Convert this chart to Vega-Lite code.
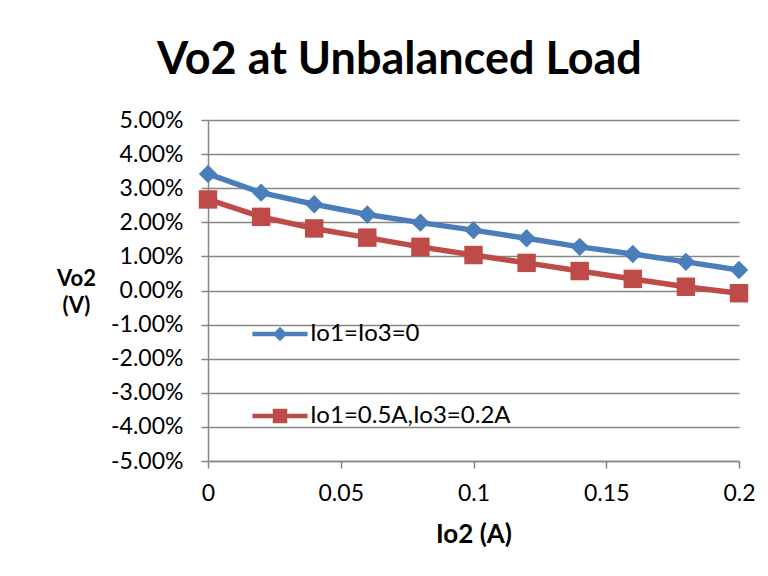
{
  "$schema": "https://vega.github.io/schema/vega-lite/v6.json",
  "width": 531,
  "height": 341,
  "autosize": {"type": "none"},
  "padding": {"left": 208, "top": 120, "right": 29, "bottom": 115},
  "background": "white",
  "config": {
    "font": "Lato",
    "view": {"stroke": null},
    "locale": {"number": {"decimal": ".", "thousands": ",", "grouping": [3], "currency": ["$", ""], "minus": "-"}},
    "axis": {"labelFont": "Lato", "titleFont": "Lato", "labelColor": "#000000", "titleColor": "#000000", "labelFlush": false}
  },
  "title": {
    "text": "Vo2 at Unbalanced Load",
    "font": "Lato",
    "fontSize": 45,
    "fontWeight": "bold",
    "color": "#000000",
    "anchor": "middle",
    "dx": -74,
    "offset": 26
  },
  "data": {
    "values": [
      {"io2": 0.00, "vo2": 0.0342, "series": "Io1=Io3=0"},
      {"io2": 0.02, "vo2": 0.0287, "series": "Io1=Io3=0"},
      {"io2": 0.04, "vo2": 0.0253, "series": "Io1=Io3=0"},
      {"io2": 0.06, "vo2": 0.0223, "series": "Io1=Io3=0"},
      {"io2": 0.08, "vo2": 0.0199, "series": "Io1=Io3=0"},
      {"io2": 0.10, "vo2": 0.0177, "series": "Io1=Io3=0"},
      {"io2": 0.12, "vo2": 0.0153, "series": "Io1=Io3=0"},
      {"io2": 0.14, "vo2": 0.0128, "series": "Io1=Io3=0"},
      {"io2": 0.16, "vo2": 0.0107, "series": "Io1=Io3=0"},
      {"io2": 0.18, "vo2": 0.0084, "series": "Io1=Io3=0"},
      {"io2": 0.20, "vo2": 0.0060, "series": "Io1=Io3=0"},
      {"io2": 0.00, "vo2": 0.0267, "series": "Io1=0.5A,Io3=0.2A"},
      {"io2": 0.02, "vo2": 0.0216, "series": "Io1=0.5A,Io3=0.2A"},
      {"io2": 0.04, "vo2": 0.0182, "series": "Io1=0.5A,Io3=0.2A"},
      {"io2": 0.06, "vo2": 0.0155, "series": "Io1=0.5A,Io3=0.2A"},
      {"io2": 0.08, "vo2": 0.0128, "series": "Io1=0.5A,Io3=0.2A"},
      {"io2": 0.10, "vo2": 0.0104, "series": "Io1=0.5A,Io3=0.2A"},
      {"io2": 0.12, "vo2": 0.0081, "series": "Io1=0.5A,Io3=0.2A"},
      {"io2": 0.14, "vo2": 0.0057, "series": "Io1=0.5A,Io3=0.2A"},
      {"io2": 0.16, "vo2": 0.0034, "series": "Io1=0.5A,Io3=0.2A"},
      {"io2": 0.18, "vo2": 0.0011, "series": "Io1=0.5A,Io3=0.2A"},
      {"io2": 0.20, "vo2": -0.0008, "series": "Io1=0.5A,Io3=0.2A"}
    ]
  },
  "encoding": {
    "x": {
      "field": "io2",
      "type": "quantitative",
      "scale": {"domain": [0, 0.2], "nice": false, "zero": false},
      "axis": {
        "title": "Io2 (A)",
        "values": [0, 0.05, 0.1, 0.15, 0.2],
        "format": "~g",
        "grid": false,
        "domainColor": "#868686",
        "domainWidth": 1.5,
        "tickColor": "#868686",
        "tickWidth": 1.5,
        "tickSize": 7,
        "labelFontSize": 23,
        "labelPadding": 14,
        "titleFontSize": 26,
        "titleFontWeight": "bold",
        "titlePadding": 16
      }
    },
    "y": {
      "field": "vo2",
      "type": "quantitative",
      "scale": {"domain": [-0.05, 0.05], "nice": false, "zero": false},
      "axis": {
        "title": ["Vo2", "(V)"],
        "values": [-0.05, -0.04, -0.03, -0.02, -0.01, 0, 0.01, 0.02, 0.03, 0.04, 0.05],
        "format": ".2%",
        "grid": true,
        "gridColor": "#868686",
        "gridWidth": 1.5,
        "domainColor": "#868686",
        "domainWidth": 1.5,
        "tickColor": "#868686",
        "tickWidth": 1.5,
        "tickSize": 7,
        "labelFontSize": 23,
        "labelPadding": 18,
        "titleAngle": 0,
        "titleFontSize": 22,
        "titleFontWeight": "bold",
        "titleAlign": "center",
        "titleBaseline": "middle",
        "titleLineHeight": 27,
        "titleX": -132,
        "titleY": 158
      }
    }
  },
  "resolve": {"legend": {"color": "independent", "shape": "independent"}},
  "layer": [
    {
      "mark": {"type": "line", "strokeWidth": 5.5},
      "encoding": {
        "color": {
          "field": "series",
          "type": "nominal",
          "scale": {"domain": ["Io1=Io3=0", "Io1=0.5A,Io3=0.2A"], "range": ["#4A7EBB", "#BE4B48"]},
          "legend": null
        }
      }
    },
    {
      "mark": {"type": "point", "filled": true, "opacity": 1, "size": 340},
      "encoding": {
        "color": {
          "field": "series",
          "type": "nominal",
          "scale": {"domain": ["Io1=Io3=0", "Io1=0.5A,Io3=0.2A"], "range": ["#4A7EBB", "#BE4B48"]},
          "legend": null
        },
        "shape": {
          "condition": {"test": "datum.series === 'Io1=Io3=0'", "value": "diamond"},
          "value": "square"
        }
      }
    },
    {
      "transform": [{"filter": "false"}],
      "mark": {"type": "point", "filled": true, "opacity": 1},
      "encoding": {
        "color": {
          "field": "series",
          "type": "nominal",
          "scale": {"domain": ["Io1=Io3=0", "Io1=0.5A,Io3=0.2A"], "range": ["#4A7EBB", "#BE4B48"]},
          "legend": {
            "title": null,
            "orient": "none",
            "legendX": 60,
            "legendY": 202,
            "padding": 0,
            "symbolSize": 324,
            "symbolStrokeWidth": 0,
            "symbolOpacity": 1,
            "labelFont": "Lato",
            "labelFontSize": 24,
            "labelColor": "#000000",
            "labelOffset": 18,
            "rowPadding": 58,
            "labelLimit": 400
          }
        },
        "shape": {
          "field": "series",
          "type": "nominal",
          "scale": {
            "domain": ["Io1=Io3=0", "Io1=0.5A,Io3=0.2A"],
            "range": [
              "M-3.06,-0.24H3.06V0.24H-3.06Z M0,-0.8L0.8,0L0,0.8L-0.8,0Z",
              "M-3.06,-0.24H3.06V0.24H-3.06Z M-0.8,-0.8H0.8V0.8H-0.8Z"
            ]
          }
        }
      }
    }
  ]
}
